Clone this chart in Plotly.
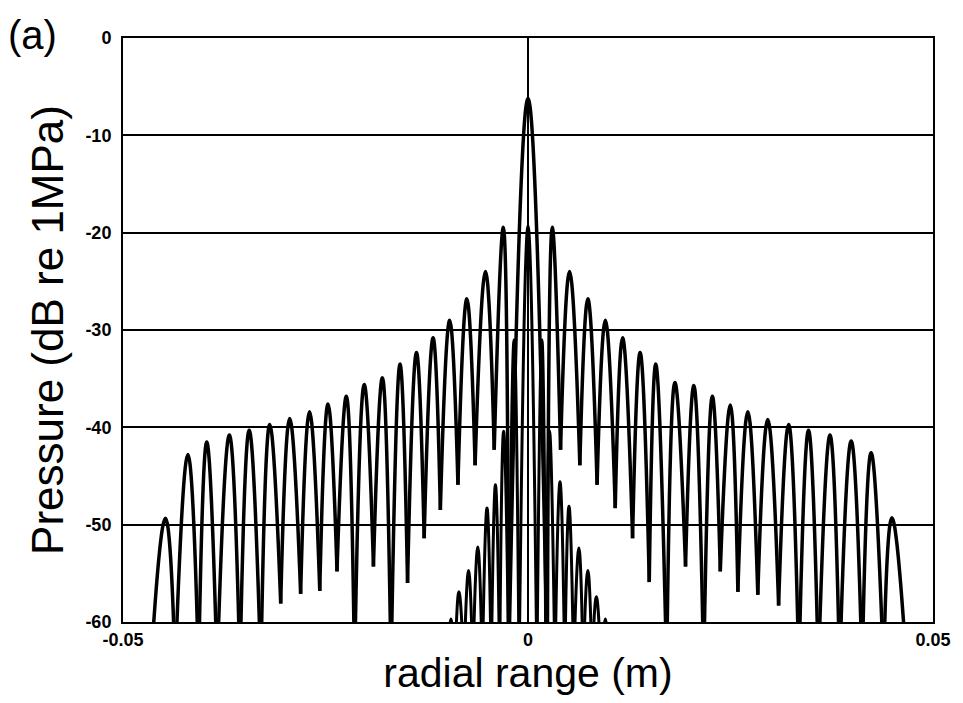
import plotly.graph_objects as go

# ---------------- data ----------------
# Curve B: broad lobed beam pattern — lobe peaks (m, dB) and the nulls between lobes
b_peak_x = [-0.04476, -0.04199, -0.03966, -0.03687, -0.03442, -0.03188, -0.02942, -0.02697,
            -0.02469, -0.02243, -0.02022, -0.01798, -0.01580, -0.01377, -0.01172, -0.00967,
            -0.00755, -0.00525, -0.00305, 0.0,
            0.00300, 0.00513, 0.00739, 0.00955, 0.01168, 0.01384, 0.01577, 0.01814,
            0.02047, 0.02276, 0.02497, 0.02714, 0.02960, 0.03217, 0.03463, 0.03728,
            0.03990, 0.04236, 0.04493]
b_peak_db = [-49.35, -42.8, -41.5, -40.8, -40.3, -39.7, -39.1, -38.4,
             -37.6, -36.8, -35.6, -34.9, -33.5, -32.3, -30.8, -29.0,
             -26.8, -24.0, -19.45, -6.2,
             -19.45, -24.0, -26.8, -29.0, -30.8, -32.3, -33.5, -35.4,
             -35.7, -36.8, -37.7, -38.4, -39.2, -39.7, -40.3, -40.8,
             -41.4, -42.6, -49.3]
b_null_x = [-0.04660, -0.04356, -0.04067, -0.03838, -0.03556, -0.03298, -0.03053, -0.02807,
            -0.02571, -0.02358, -0.02141, -0.01908, -0.01691, -0.01487, -0.01282, -0.01082,
            -0.00865, -0.00653, -0.00417, -0.00239,
            0.00239, 0.00402, 0.00640, 0.00853, 0.01077, 0.01291, 0.01497, 0.01712,
            0.01945, 0.02169, 0.02374, 0.02591, 0.02837, 0.03094, 0.03344, 0.03585,
            0.03847, 0.04125, 0.04390, 0.04677]
b_null_db = [-65, -65, -65, -65, -65, -65, -58.1, -57.1,
             -56.8, -54.8, -65, -54.3, -65, -56.0, -51.4, -48.5,
             -45.9, -43.9, -42.3, -65,
             -65, -42.3, -43.9, -45.9, -48.3, -51.4, -55.9, -65,
             -54.3, -65, -54.8, -56.9, -57.2, -58.3, -65, -65,
             -65, -65, -65, -65]

# Curve C: narrow central pattern — lobe peaks and nulls
c_peak_x = [-0.00951, -0.00853, -0.00734, -0.00620, -0.00506, -0.00402, -0.00301, -0.00172, 0.0,
            0.00172, 0.00266, 0.00395, 0.00506, 0.00628, 0.00739, 0.00844, 0.00955]
c_peak_db = [-59.7, -56.9, -54.7, -52.3, -48.3, -45.9, -40.4, -31.0, -19.3,
             -31.0, -40.4, -45.6, -48.1, -52.4, -54.7, -57.4, -59.7]
c_null_x = [-0.01006, -0.00902, -0.00791, -0.00681, -0.00564, -0.00454, -0.00350, -0.00236, -0.00110,
            0.00110, 0.00221, 0.00333, 0.00454, 0.00564, 0.00681, 0.00791, 0.00902, 0.01006]
c_null_db = [-65, -65, -65, -65, -65, -65, -65, -65, -65,
             -65, -65, -65, -65, -65, -65, -65, -65, -65]

x_tick_vals = [-0.05, 0.0, 0.05]
x_tick_text = ["-0.05", "0", "0.05"]
y_tick_vals = [-60, -50, -40, -30, -20, -10, 0]
y_tick_text = ["-60", "-50", "-40", "-30", "-20", "-10", "0"]


def lobe_path(null_x, null_db, peak_x, peak_db):
    xs, ys = [], []
    for i in range(len(peak_x)):
        xs += [null_x[i], peak_x[i], null_x[i + 1], None]
        ys += [null_db[i], peak_db[i], null_db[i + 1], None]
    return xs, ys


bx, by = lobe_path(b_null_x, b_null_db, b_peak_x, b_peak_db)
cx, cy = lobe_path(c_null_x, c_null_db, c_peak_x, c_peak_db)

fig = go.Figure()
fig.add_trace(go.Scatter(x=cx, y=cy, mode="lines", connectgaps=False,
                         line=dict(color="black", width=3, shape="spline", smoothing=1.3),
                         hoverinfo="skip"))
fig.add_trace(go.Scatter(x=bx, y=by, mode="lines", connectgaps=False,
                         line=dict(color="black", width=3.5, shape="spline", smoothing=1.3),
                         hoverinfo="skip"))

fig.update_layout(
    width=963, height=703,
    margin=dict(l=123, r=25, t=38, b=81),
    plot_bgcolor="white", paper_bgcolor="white",
    showlegend=False,
    font=dict(family="Liberation Sans, Arial, sans-serif", color="black"),
    annotations=[dict(text="(a)", xref="paper", yref="paper", x=-0.145, y=1.047,
                      xanchor="left", yanchor="top", showarrow=False,
                      font=dict(size=40, color="black"))],
)
fig.update_xaxes(
    range=[-0.05, 0.05], tickmode="array", tickvals=x_tick_vals, ticktext=x_tick_text,
    showgrid=False, zeroline=True, zerolinecolor="black", zerolinewidth=1.5,
    showline=True, mirror=True, linecolor="black", linewidth=2, ticks="",
    tickfont=dict(size=18, weight="bold", color="black"),
    title=dict(text="radial range (m)", font=dict(size=41, color="black"), standoff=6),
)
fig.update_yaxes(
    range=[-60, 0], tickmode="array", tickvals=y_tick_vals, ticktext=y_tick_text,
    showgrid=True, gridcolor="black", gridwidth=2, zeroline=False,
    showline=True, mirror=True, linecolor="black", linewidth=2, ticks="",
    ticklabelstandoff=6,
    tickfont=dict(size=18, weight="bold", color="black"),
    title=dict(text="Pressure (dB re 1MPa)", font=dict(size=44, color="black"), standoff=8),
)

fig.write_html("out.html")
